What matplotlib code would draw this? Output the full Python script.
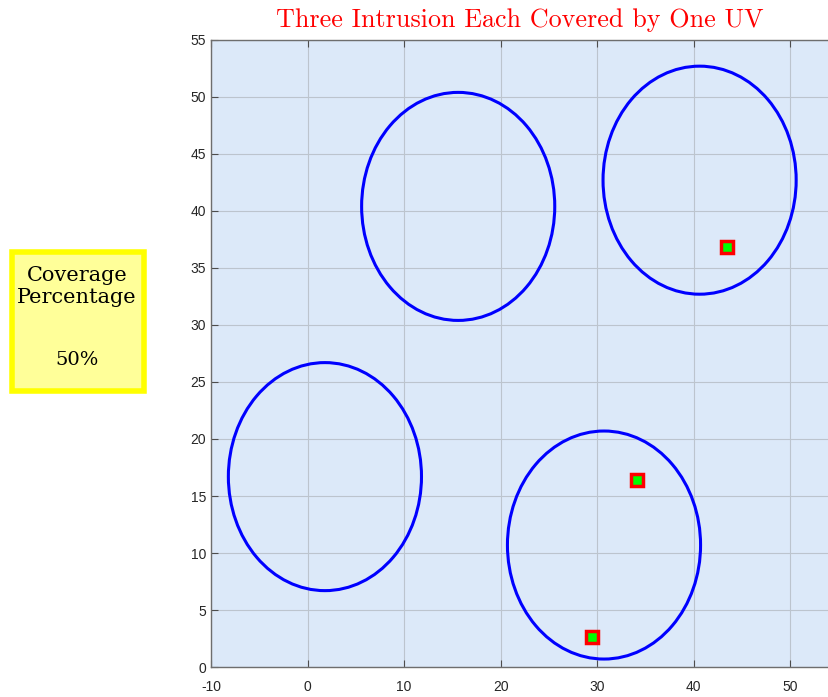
import numpy as np
import matplotlib.pyplot as plt
from matplotlib.patches import Circle, Rectangle

plt.rcParams["axes.unicode_minus"] = False

# UV coverage circles (centre x, centre y), radius shared
uv_x = [1.8, 15.6, 40.6, 30.7]
uv_y = [16.7, 40.4, 42.7, 10.7]
uv_radius = 10

# intrusion points
intr_x = [43.4, 34.1, 29.5]
intr_y = [36.8, 16.4, 2.6]

coverage = "50%"

fig = plt.figure(figsize=(8.29, 6.97), dpi=100)
ax = fig.add_axes([0.2545, 0.043, 0.7455, 0.8997])
ax.set_facecolor("#dce9f9")

for cx, cy in zip(uv_x, uv_y):
    ax.add_patch(Circle((cx, cy), uv_radius, fill=False, edgecolor="#0000ff", linewidth=2.2, zorder=3))

ax.plot(intr_x, intr_y, linestyle="none", marker="s", markersize=9,
        markerfacecolor="#00ff00", markeredgecolor="#ff0000", markeredgewidth=2.5, zorder=4)

ax.set_xlim(-10, 54)
ax.set_ylim(0, 55)
ax.set_xticks(np.arange(-10, 51, 10))
ax.set_yticks(np.arange(0, 56, 5))
ax.grid(True, color="#bcc4ce", linewidth=0.8)
ax.set_axisbelow(True)
ax.tick_params(direction="in", length=5, color="#4d4d4d", labelsize=10, labelcolor="#262626",
               top=True, right=False)
ax.tick_params(axis="x", pad=9)
for lab in ax.get_xticklabels() + ax.get_yticklabels():
    lab.set_family("Liberation Sans")
for side in ["left", "bottom", "top"]:
    ax.spines[side].set_color("#6e6e6e")
    ax.spines[side].set_linewidth(1.0)
ax.spines["right"].set_visible(False)

ax.set_title("Three Intrusion Each Covered by One UV", color="#ff0000",
             fontsize=18.8, family="cmr10", pad=9)

# coverage box on the left
fig.patches.append(Rectangle((12 / 829, 1 - 391 / 697), 132 / 829, 139 / 697,
                             transform=fig.transFigure, facecolor="#ffff99",
                             edgecolor="#ffff00", linewidth=4))
fig.text(77 / 829, 1 - 286 / 697, "Coverage\nPercentage", ha="center", va="center",
         fontsize=15, family="DejaVu Serif", linespacing=1.2)
fig.text(77 / 829, 1 - 360 / 697, coverage, ha="center", va="center",
         fontsize=14, family="DejaVu Serif")

fig.savefig("out.png", dpi=100)
